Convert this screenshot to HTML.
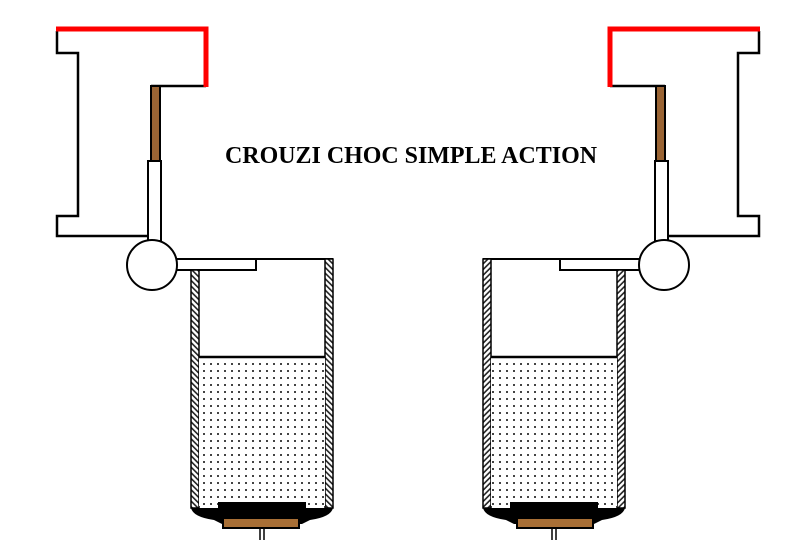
<!DOCTYPE html>
<html><head><style>html,body{margin:0;padding:0;background:#fff;}svg{display:block}</style></head>
<body>
<svg width="800" height="547" viewBox="0 0 800 547" xmlns="http://www.w3.org/2000/svg">
<defs>
<pattern id="hatch" width="4" height="4" patternUnits="userSpaceOnUse" patternTransform="rotate(-45)">
<rect width="4" height="4" fill="#fff"/><line x1="0.8" y1="0" x2="0.8" y2="4" stroke="#222" stroke-width="1.6"/>
</pattern>
<pattern id="dots" x="201" y="361" width="7" height="7" patternUnits="userSpaceOnUse">
<rect width="7" height="7" fill="#fff"/><rect x="2" y="2" width="2" height="2" fill="#444"/>
</pattern>
<g id="half">
  <path d="M57 31 V53 H78 V216 H57 V236 H148" fill="none" stroke="#000" stroke-width="2.5"/>
  <path d="M206 86 H151" fill="none" stroke="#000" stroke-width="2.5"/>
  <path d="M56 29 H206 V87" fill="none" stroke="#f00" stroke-width="5"/>
  <rect x="151" y="86" width="9" height="75" fill="#9a6434" stroke="#000" stroke-width="2"/>
  <rect x="148" y="161" width="13" height="80" fill="#fff" stroke="#000" stroke-width="2"/>
  <rect x="172" y="259" width="84" height="11" fill="#fff" stroke="#000" stroke-width="2"/>
  <path d="M256 259 H333" stroke="#000" stroke-width="2"/>
  <circle cx="152" cy="265" r="25" fill="#fff" stroke="#000" stroke-width="2"/>
  <rect x="191" y="270" width="8" height="238" fill="url(#hatch)" stroke="#000" stroke-width="1.5"/>
  <rect x="325" y="259" width="8" height="249" fill="url(#hatch)" stroke="#000" stroke-width="1.5"/>
  <rect x="199" y="358" width="126" height="148" fill="url(#dots)"/>
  <path d="M199 357 H325" stroke="#000" stroke-width="2.5"/>
  <path d="M218 502 H306 V508 H333 Q331 517 310 520 L302 524 H222 L214 520 Q193 517 191 508 H218 Z" fill="#000"/>
  <rect x="223" y="518" width="76" height="10" fill="#a86f36" stroke="#000" stroke-width="2"/>
  <path d="M260 529 V540 M264 529 V540" stroke="#000" stroke-width="1.5"/>
</g>
</defs>
<use href="#half"/>
<use href="#half" transform="translate(816,0) scale(-1,1)"/>
<text x="225" y="163" font-family="Liberation Serif, serif" font-weight="bold" font-size="24" textLength="372" lengthAdjust="spacingAndGlyphs">CROUZI CHOC SIMPLE ACTION</text>
</svg>
</body></html>
